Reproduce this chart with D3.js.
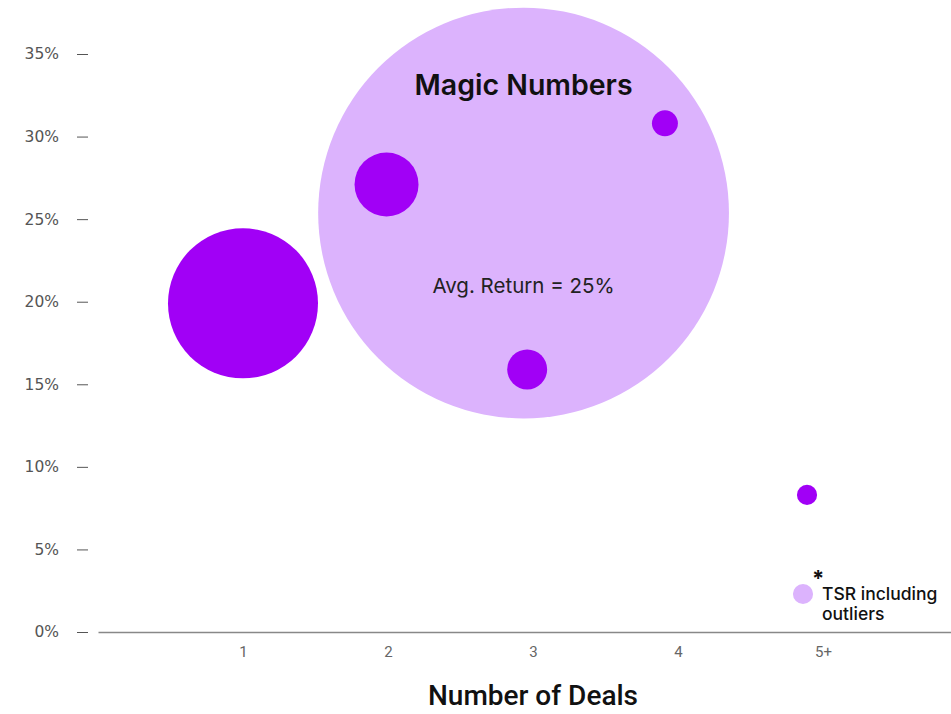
<!DOCTYPE html>
<html><head><meta charset="utf-8">
<script src="https://cdn.jsdelivr.net/npm/d3@7"></script>
<style>body{margin:0;background:#fff}svg{display:block}</style>
</head><body>
<script>
const categories = ["1", "2", "3", "4", "5+"];
const dealX = [1, 1.99, 2.96, 3.91, 4.89];
const returns = [19.9, 27.1, 15.9, 30.8, 8.3];
const sizes = [100, 18.2, 7.1, 3.0, 1.8];
const yTicks = [0, 5, 10, 15, 20, 25, 30, 35];
const magicX = 2.935, magicY = 25.37, magicSize = 750;
const legendSize = 1.8;

const W = 951, H = 714;
const svg = d3.select("body").append("svg").attr("width", W).attr("height", H);
const x = d3.scaleLinear().domain([0, 5.883]).range([98, 951]);
const y = d3.scaleLinear().domain([0, 35]).range([632, 54]);
const r = d3.scaleSqrt().domain([0, 100]).range([0, 75]);
const dark = "#a100f6", light = "#dcb3fd";

// big magic numbers circle
svg.append("circle").attr("cx", x(magicX)).attr("cy", y(magicY)).attr("r", r(magicSize)).attr("fill", light);
svg.append("text").attr("x", x(magicX)).attr("y", 95).attr("text-anchor", "middle")
  .attr("font-family", "Inter, Roboto, sans-serif").attr("font-weight", 600).attr("font-size", 28.5).attr("fill", "#111")
  .text("Magic Numbers");
svg.append("text").attr("x", x(magicX)).attr("y", 293).attr("text-anchor", "middle")
  .attr("font-family", "Inter, Roboto, sans-serif").attr("font-size", 20.5).attr("fill", "#222")
  .text("Avg. Return = 25%");

// y axis
const yAxis = svg.append("g").attr("transform", "translate(88,0)")
  .call(d3.axisLeft(y).tickValues(yTicks).tickSize(11).tickPadding(18).tickFormat(d => d + "%"));
yAxis.select(".domain").remove();
yAxis.selectAll(".tick line").attr("stroke", "#555");
yAxis.selectAll("text").attr("font-family", "DejaVu Sans, sans-serif").attr("font-size", 15.5)
  .attr("fill", "#555");

// x axis
const xAxis = svg.append("g").attr("transform", "translate(0,632)")
  .call(d3.axisBottom(x).tickValues([1, 2, 3, 4, 5]).tickSize(0).tickPadding(14)
    .tickFormat((d, i) => categories[i]));
xAxis.select(".domain").attr("stroke", "#888").attr("stroke-width", 1.5);
xAxis.selectAll("text").attr("font-family", "Roboto, sans-serif").attr("font-size", 15).attr("fill", "#666");
svg.append("text").attr("x", 533).attr("y", 705).attr("text-anchor", "middle")
  .attr("font-family", "Roboto, sans-serif").attr("font-weight", 500).attr("font-size", 28).attr("fill", "#111")
  .text("Number of Deals");

// bubbles
svg.append("g").selectAll("circle").data(categories).join("circle")
  .attr("cx", (d, i) => x(dealX[i])).attr("cy", (d, i) => y(returns[i])).attr("r", (d, i) => r(sizes[i]))
  .attr("fill", dark);

// legend
svg.append("circle").attr("cx", 803).attr("cy", 594).attr("r", r(legendSize)).attr("fill", light);
svg.append("text").attr("x", 812).attr("y", 586).attr("font-family", "Inter, sans-serif").attr("font-weight", 700)
  .attr("font-size", 22).attr("fill", "#111").text("*");
const lg = svg.append("text").attr("font-family", "Inter, sans-serif").attr("font-weight", 500)
  .attr("font-size", 17.5).attr("fill", "#111");
lg.append("tspan").attr("x", 822).attr("y", 600).text("TSR including");
lg.append("tspan").attr("x", 822).attr("y", 620).text("outliers");
</script>
</body></html>
